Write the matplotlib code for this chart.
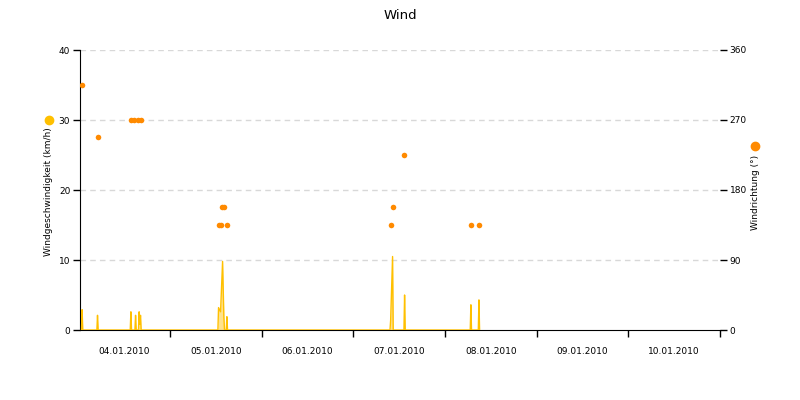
import matplotlib
matplotlib.use('Agg')
from matplotlib import pyplot
from matplotlib.ticker import FixedLocator, NullFormatter

# time axis: days since 04.01.2010 00:00
day_labels = ['04.01.2010', '05.01.2010', '06.01.2010', '07.01.2010',
              '08.01.2010', '09.01.2010', '10.01.2010']

# wind speed (km/h), calm readings in between
speed_time = [0.036, 0.043, 0.050, 0.204, 0.211, 0.218,
              0.568, 0.575, 0.582, 0.619, 0.626, 0.633, 0.658, 0.665, 0.672, 0.680, 0.687,
              1.524, 1.531, 1.553, 1.575, 1.589, 1.596, 1.615, 1.622, 1.629,
              3.401, 3.408, 3.429, 3.436, 3.553, 3.560, 3.567,
              4.276, 4.283, 4.290, 4.364, 4.371, 4.378]
speed_kmh = [0, 2.9, 0, 0, 2.1, 0,
             0, 2.6, 0, 0, 2.1, 0, 0, 2.6, 0.8, 2.1, 0,
             0, 3.2, 2.6, 9.8, 1.9, 0, 0, 1.9, 0,
             0, 1.4, 10.5, 0, 0, 5.0, 0,
             0, 3.6, 0, 0, 4.3, 0]

# wind direction (degrees)
dir_time = [0.043, 0.211, 0.575, 0.611, 0.648, 0.684,
            1.535, 1.553, 1.622, 1.567, 1.589,
            3.411, 3.433, 3.556, 4.283, 4.371]
dir_deg = [315, 247.5, 270, 270, 270, 270,
           135, 135, 135, 157.5, 157.5,
           135, 157.5, 225, 135, 135]

yellow = '#FFC000'
orange = '#FF8A00'
fs = 6.5

fig = pyplot.figure(figsize=(8, 4), dpi=100)
ax = fig.add_axes([0.1, 0.175, 0.8, 0.7])
ax2 = ax.twinx()

ax.set_xlim(0.02, 7)
ax.set_ylim(0, 40)
ax2.set_ylim(0, 360)

for y in [10, 20, 30, 40]:
    ax.axhline(y, color='#d8d8d8', lw=1, dashes=(4, 3), zorder=0)

ax.fill_between(speed_time, speed_kmh, color=yellow, alpha=0.45, lw=0, zorder=2)
ax.plot(speed_time, speed_kmh, color=yellow, lw=1, zorder=3)
ax2.scatter(dir_time, dir_deg, s=16, color=orange, zorder=4, linewidths=0)

ax.spines['top'].set_visible(False)
ax.spines['right'].set_visible(False)
for s in ('top', 'right', 'left', 'bottom'):
    ax2.spines[s].set_visible(False)

ax.set_yticks([0, 10, 20, 30, 40])
ax2.set_yticks([0, 90, 180, 270, 360])
ax.tick_params(axis='y', length=5, width=1, pad=2, labelsize=fs, colors='black')
ax2.tick_params(axis='y', length=5, width=1, pad=2, labelsize=fs, colors='black')

ax.xaxis.set_major_locator(FixedLocator([1, 2, 3, 4, 5, 6, 7]))
ax.xaxis.set_major_formatter(NullFormatter())
ax.xaxis.set_minor_locator(FixedLocator([i + 0.5 for i in range(len(day_labels))]))
ax.set_xticklabels(day_labels, minor=True)
ax.tick_params(axis='x', which='major', length=5, width=1, direction='out')
ax.tick_params(axis='x', which='minor', length=0, pad=12, labelsize=fs)

fig.text(0.5, 0.962, 'Wind', ha='center', va='center', fontsize=9.5)
fig.text(0.061, 0.52, 'Windgeschwindigkeit (km/h)', rotation=90,
         ha='center', va='center', fontsize=fs)
fig.text(0.945, 0.52, 'Windrichtung (°)', rotation=90,
         ha='center', va='center', fontsize=fs)
fig.lines.append(matplotlib.lines.Line2D([0.061], [0.701], marker='o', ms=6,
                                         color=yellow, transform=fig.transFigure))
fig.lines.append(matplotlib.lines.Line2D([0.944], [0.635], marker='o', ms=6,
                                         color=orange, transform=fig.transFigure))

pyplot.savefig('out.png')
